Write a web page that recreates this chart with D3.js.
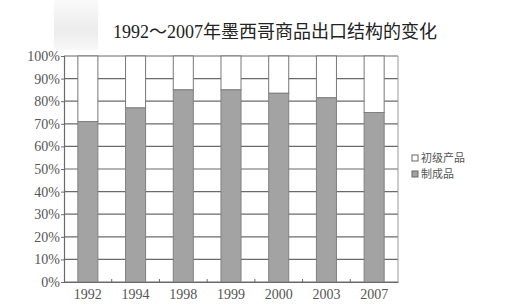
<!DOCTYPE html>
<meta charset="utf-8">
<head>
    <style>
        body { margin: 0; background: #fff; }
        .tick text { font-family: "Liberation Serif", "Noto Sans CJK SC", serif; fill: #555; }
    </style>
    <script src="https://d3js.org/d3.v7.min.js"></script>
</head>
<body>
<script>
    // data
    var years = ["1992", "1994", "1998", "1999", "2000", "2003", "2007"];
    var manufactured = [71, 77, 85, 85, 83.5, 81.5, 75];   // 制成品 (%)
    var primary = manufactured.map(function (v) { return 100 - v; }); // 初级产品 (%)
    var yTicks = [0, 10, 20, 30, 40, 50, 60, 70, 80, 90, 100];
    var legendNames = ["初级产品", "制成品"];

    var width = 512, height = 306;
    var margin = {top: 56, right: 114, bottom: 24, left: 64};

    var svg = d3.select("body").append("svg")
        .attr("width", width)
        .attr("height", height);

    // faint watermark block top-left (scan artefact)
    var defs = svg.append("defs");
    var grad = defs.append("linearGradient").attr("id", "wm")
        .attr("x1", 0).attr("y1", 0).attr("x2", 0).attr("y2", 1);
    grad.append("stop").attr("offset", "0%").attr("stop-color", "#fafafa");
    grad.append("stop").attr("offset", "60%").attr("stop-color", "#ececec");
    grad.append("stop").attr("offset", "100%").attr("stop-color", "#f8f8f8");
    svg.append("rect")
        .attr("x", 54).attr("y", 0).attr("width", 44).attr("height", 50)
        .attr("fill", "url(#wm)");

    var x = d3.scaleBand()
        .domain(years)
        .range([margin.left, width - margin.right])
        .paddingInner(0.58)
        .paddingOuter(0.29);

    var y = d3.scaleLinear()
        .domain([0, 100])
        .range([height - margin.bottom, margin.top]);

    var grid = "#6a6a6a";

    // horizontal grid
    svg.append("g").selectAll("line")
        .data(yTicks)
        .enter().append("line")
        .attr("x1", margin.left).attr("x2", width - margin.right)
        .attr("y1", function (d) { return y(d); })
        .attr("y2", function (d) { return y(d); })
        .attr("stroke", grid).attr("stroke-width", 1.2);

    // right border
    svg.append("line")
        .attr("x1", width - margin.right).attr("x2", width - margin.right)
        .attr("y1", y(0)).attr("y2", y(100))
        .attr("stroke", "#999").attr("stroke-width", 1);

    // bars: white primary on top, grey manufactured below
    var g = svg.append("g");
    g.selectAll(".top")
        .data(years)
        .enter().append("rect")
        .attr("x", function (d) { return x(d); })
        .attr("width", x.bandwidth())
        .attr("y", y(100))
        .attr("height", function (d, i) { return y(manufactured[i]) - y(100); })
        .attr("fill", "#fff").attr("stroke", "#777").attr("stroke-width", 1);

    g.selectAll(".bot")
        .data(years)
        .enter().append("rect")
        .attr("x", function (d) { return x(d); })
        .attr("width", x.bandwidth())
        .attr("y", function (d, i) { return y(manufactured[i]); })
        .attr("height", function (d, i) { return y(0) - y(manufactured[i]); })
        .attr("fill", "#a3a3a3").attr("stroke", "#808080").attr("stroke-width", 1);

    // y axis
    svg.append("g")
        .attr("transform", "translate(" + margin.left + ",0)")
        .call(d3.axisLeft(y).tickValues(yTicks).tickSize(3).tickFormat(function (d) { return d + "%"; }))
        .call(function (s) {
            s.select(".domain").attr("stroke", grid).attr("stroke-width", 1.2);
            s.selectAll(".tick line").attr("stroke", grid);
            s.selectAll(".tick text").attr("font-size", 14).attr("x", -4);
        });

    // x axis
    svg.append("g")
        .attr("transform", "translate(0," + y(0) + ")")
        .call(d3.axisBottom(x).tickSize(0).tickPadding(7))
        .call(function (s) {
            s.select(".domain").attr("stroke", grid).attr("stroke-width", 1.2);
            s.selectAll(".tick text").attr("font-size", 14);
        });

    // small ticks between bars
    svg.append("g").selectAll("line")
        .data(years.slice(1))
        .enter().append("line")
        .attr("x1", function (d) { return x(d) - x.step() * x.paddingInner() / 2; })
        .attr("x2", function (d) { return x(d) - x.step() * x.paddingInner() / 2; })
        .attr("y1", y(0)).attr("y2", y(0) - 3)
        .attr("stroke", grid);

    // title
    svg.append("text")
        .attr("x", 275).attr("y", 38)
        .attr("text-anchor", "middle")
        .attr("font-family", "'Liberation Serif', 'Noto Sans CJK SC', serif")
        .attr("font-size", 18)
        .attr("fill", "#222")
        .text("1992～2007年墨西哥商品出口结构的变化");

    // legend
    var legendFill = ["#fff", "#a3a3a3"];
    var lg = svg.append("g").selectAll("g")
        .data(legendNames)
        .enter().append("g")
        .attr("transform", function (d, i) { return "translate(412," + (155 + i * 16) + ")"; });
    lg.append("rect")
        .attr("width", 6).attr("height", 6)
        .attr("fill", function (d, i) { return legendFill[i]; })
        .attr("stroke", "#666");
    lg.append("text")
        .attr("x", 9).attr("y", 7)
        .attr("font-family", "'Noto Sans CJK SC', serif")
        .attr("font-size", 11)
        .attr("fill", "#555")
        .text(function (d) { return d; });
</script>
</body>
</html>
